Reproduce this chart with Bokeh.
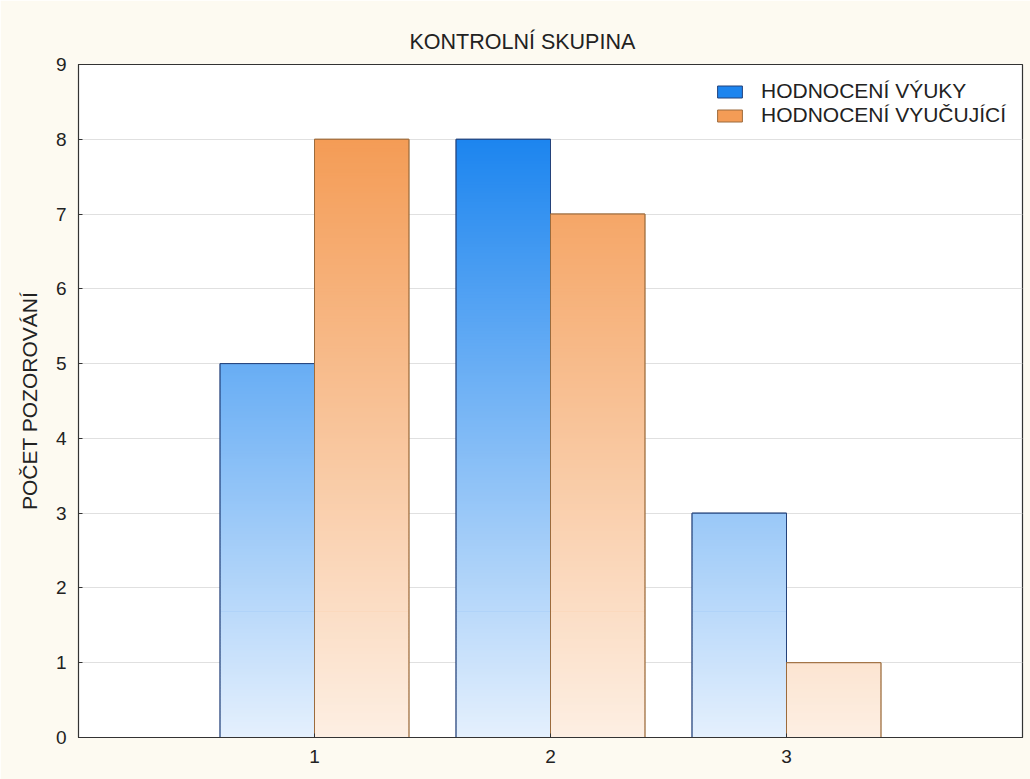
from bokeh.plotting import figure
from bokeh.models import Range1d, FixedTicker, Legend, LegendItem
from bokeh.embed import file_html
from bokeh.resources import INLINE

# ---- data ----
categories = [1, 2, 3]
tick_labels = ["1", "2", "3"]
series_names = ["HODNOCENÍ VÝUKY", "HODNOCENÍ VYUČUJÍCÍ"]
vyuky = [5, 8, 3]
vyucujici = [8, 7, 1]

# ---- style ----
FONT = "Liberation Sans"
BG = "#fdfaf1"
blue_top, blue_bot = (0x1d, 0x85, 0xef), (0xe4, 0xf0, 0xfd)
orange_top, orange_bot = (0xf4, 0x9c, 0x56), (0xfd, 0xef, 0xe3)
blue_line, orange_line = "#24427a", "#9c6b3c"
BAR_W = 0.4
GRAD_MAX = 8.0
STEP = 0.04
TXT = "#222222"


def lerp(c0, c1, t):
    t = max(0.0, min(1.0, t))
    return "#%02x%02x%02x" % tuple(int(round(a + (b - a) * t)) for a, b in zip(c0, c1))


p = figure(
    frame_width=944, frame_height=673,
    x_range=Range1d(0, 4), y_range=Range1d(0, 9),
    output_backend="svg", toolbar_location=None,
    min_border_left=78, min_border_right=8, min_border_top=64, min_border_bottom=42,
    background_fill_color="white", border_fill_color=BG,
)

def gradient_bar(xs, vals, offset, top_c, bot_c, line_c):
    lefts = [x + offset for x in xs]
    rights = [x + offset + BAR_W for x in xs]
    # solid base (also used as legend swatch)
    base = p.quad(left=lefts, right=rights, bottom=[0] * len(xs), top=vals,
                  fill_color=lerp(bot_c, top_c, 1.0), line_color=line_c, line_width=1)
    L, R, B, T, C = [], [], [], [], []
    for x, v in zip(xs, vals):
        y = 0.0
        while y < v - 1e-9:
            y2 = min(v, y + STEP)
            L.append(x + offset)
            R.append(x + offset + BAR_W)
            B.append(y)
            T.append(y2 + (0.01 if y2 < v else 0))
            C.append(lerp(bot_c, top_c, ((y + y2) / 2) / GRAD_MAX))
            y = y2
    p.quad(left=L, right=R, bottom=B, top=T, fill_color=C, line_color=None)
    p.quad(left=lefts, right=rights, bottom=[0] * len(xs), top=vals,
           fill_color=None, line_color=line_c, line_width=1)
    return base

r1 = gradient_bar(categories, vyuky, -BAR_W, blue_top, blue_bot, blue_line)
r2 = gradient_bar(categories, vyucujici, 0.0, orange_top, orange_bot, orange_line)

legend = Legend(items=[LegendItem(label=series_names[0], renderers=[r1]),
                       LegendItem(label=series_names[1], renderers=[r2])],
                location=(636, 610))
legend.label_text_font = FONT
legend.label_text_font_size = "21px"
legend.label_text_color = TXT
legend.glyph_width = 31
legend.glyph_height = 15
legend.label_height = 20
legend.label_standoff = 16
legend.spacing = -3
legend.padding = 3
legend.margin = 0
legend.border_line_color = None
legend.background_fill_color = "white"
legend.background_fill_alpha = 1.0
p.add_layout(legend)

# title
p.title.text = "KONTROLNÍ SKUPINA"
p.title.align = "left"
p.title.offset = 331
p.title.text_font = FONT
p.title.text_font_size = "21.5px"
p.title.text_font_style = "normal"
p.title.text_color = TXT
p.title.standoff = 21

# axes
p.xaxis.ticker = FixedTicker(ticks=categories)
p.xaxis.major_label_overrides = {c: l for c, l in zip(categories, tick_labels)}
p.yaxis.ticker = FixedTicker(ticks=list(range(0, 10)))
for ax in (p.xaxis[0], p.yaxis[0]):
    ax.major_label_text_font = FONT
    ax.major_label_text_font_size = "19px"
    ax.major_label_text_color = TXT
    ax.axis_line_color = "#333333"
    ax.major_tick_line_color = "#333333"
    ax.major_tick_in = 4
    ax.major_tick_out = 0
    ax.minor_tick_line_color = None
p.xaxis.major_label_standoff = 12
p.yaxis.major_label_standoff = 12
p.yaxis.axis_label = "POČET POZOROVÁNÍ"
p.yaxis.axis_label_text_font = FONT
p.yaxis.axis_label_text_font_size = "21px"
p.yaxis.axis_label_text_font_style = "normal"
p.yaxis.axis_label_text_color = TXT
p.yaxis.axis_label_standoff = 12

p.xgrid.grid_line_color = None
p.ygrid.grid_line_color = "#e0e0e0"
p.ygrid.grid_line_width = 1
p.outline_line_color = "#333333"
p.outline_line_width = 1.2

open("out.html", "w").write(file_html(p, INLINE))
